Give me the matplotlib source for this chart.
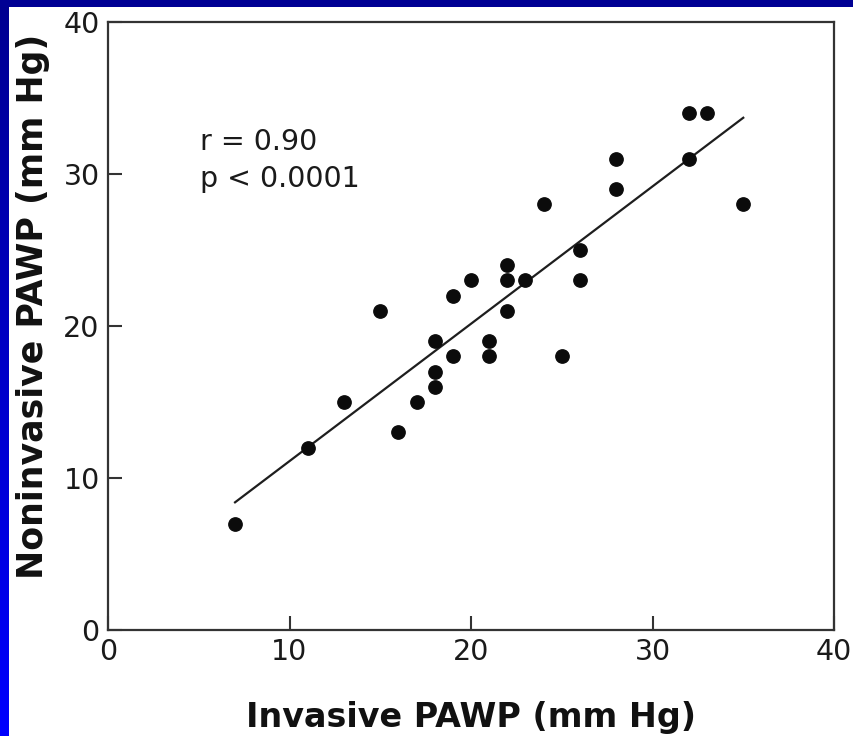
import numpy as np
import matplotlib
matplotlib.use("Agg")
import matplotlib.pyplot as plt
from matplotlib.patches import Rectangle

# Invasive vs noninvasive PAWP (mm Hg), one point per patient
invasive = [7, 11, 13, 15, 16, 17, 18, 18, 18, 19, 19, 20, 21, 21,
            22, 22, 22, 23, 24, 25, 26, 26, 28, 28, 32, 32, 33, 35]
noninvasive = [7, 12, 15, 21, 13, 15, 16, 17, 19, 18, 22, 23, 18, 19,
               21, 23, 24, 23, 28, 18, 23, 25, 29, 31, 31, 34, 34, 28]

# regression line as drawn in the figure
fit_x = [7, 35]
fit_y = [8.4, 33.7]

ticks = [0, 10, 20, 30, 40]
stats_lines = ["r = 0.90", "p < 0.0001"]

W, H = 854, 736
fig = plt.figure(figsize=(W / 100, H / 100), dpi=100)
fig.patch.set_facecolor("white")

# blue slide border (top strip + left strip with a dark-to-bright gradient)
fig.patches.append(Rectangle((0, 1 - 7 / H), 1, 7 / H, transform=fig.transFigure,
                             facecolor="#000094", edgecolor="none", zorder=0))
bx = fig.add_axes([0, 0, 9 / W, 1])
grad = np.linspace(0, 1, 256).reshape(-1, 1)
cmap = matplotlib.colors.LinearSegmentedColormap.from_list("blu", ["#000090", "#0000c8", "#0000ff"])
bx.imshow(grad, aspect="auto", cmap=cmap, origin="upper")
bx.set_axis_off()

ax = fig.add_axes([108 / W, 1 - 630 / H, (834 - 108) / W, (630 - 22) / H])
ax.plot(invasive, noninvasive, "o", color="#0b0b0b", markersize=9.6, zorder=3)
ax.plot(fit_x, fit_y, color="#1e1e1e", linewidth=1.6, zorder=2)

ax.set_xlim(0, 40)
ax.set_ylim(0, 40)
ax.set_xticks(ticks)
ax.set_yticks(ticks)
ax.tick_params(direction="in", length=10, width=1.5, color="#333333",
               labelsize=20.5, labelcolor="#1a1a1a", pad=6)
for s in ax.spines.values():
    s.set_color("#333333")
    s.set_linewidth(1.6)

ax.text(5.05, 31.6, stats_lines[0], fontsize=20.5, color="#1a1a1a", va="baseline")
ax.text(5.05, 29.15, stats_lines[1], fontsize=20.5, color="#1a1a1a", va="baseline")

fig.text(471 / W, 1 - 727 / H, "Invasive PAWP (mm Hg)", fontsize=24,
         fontweight="bold", color="#111111", ha="center", va="baseline")
fig.text(33 / W, 1 - 306 / H, "Noninvasive PAWP (mm Hg)", fontsize=25,
         fontweight="bold", color="#111111", ha="center", va="center", rotation=90)

fig.savefig("out.png", dpi=100, facecolor=fig.get_facecolor())
